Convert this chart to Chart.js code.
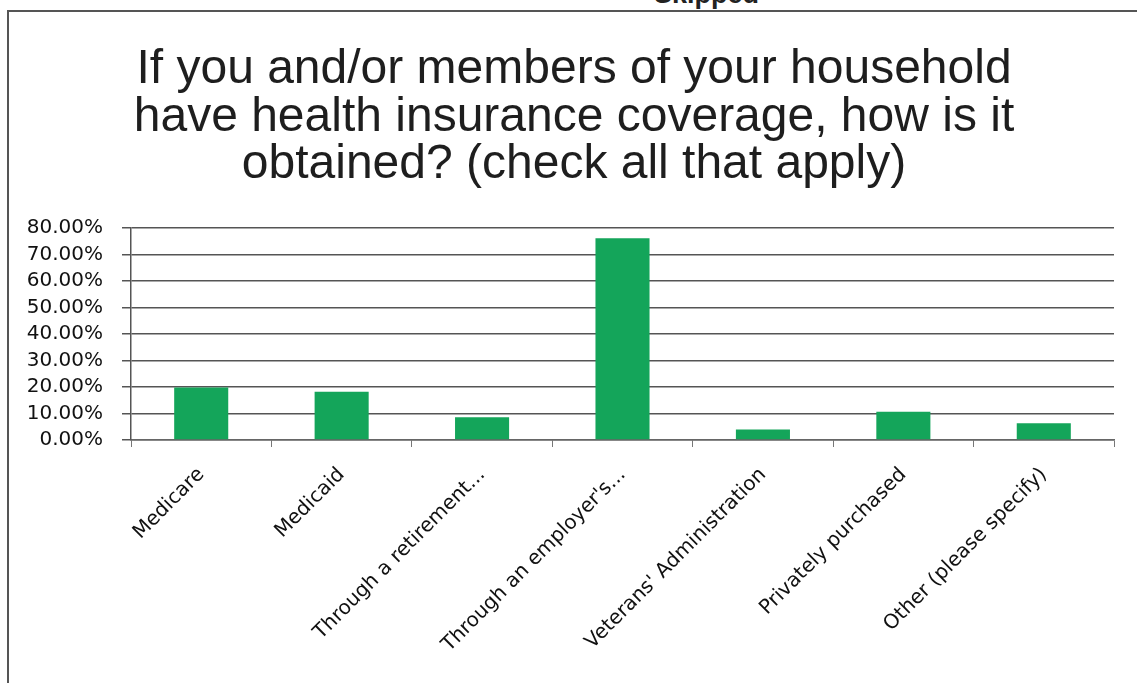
<!DOCTYPE html>
<html>
<head>
<meta charset="utf-8">
<script src="https://cdn.jsdelivr.net/npm/chart.js@4.4.1/dist/chart.umd.min.js"></script>
<style>
  html, body { margin: 0; padding: 0; background: #fff; }
  #wrap { position: relative; width: 1137px; height: 683px; overflow: hidden; }
  #frame { position: absolute; left: 7px; top: 10px; width: 1200px; height: 800px;
           border-left: 2px solid #555; border-top: 2px solid #555; pointer-events: none; }
  #skipped { position: absolute; left: 654px; top: -21px; line-height: 26px;
             font: bold 27px "Liberation Sans", Arial, sans-serif; color: #222; }
  #title { position: absolute; left: 74px; width: 1000px; top: 43px; text-align: center;
           font: 48px/47.5px "Liberation Sans", Arial, sans-serif; color: #1e1e1e; }
  canvas { position: absolute; left: 0; top: 0; }
</style>
</head>
<body>
<div id="wrap">
  <div id="skipped">Skipped</div>
  <div id="frame"></div>
  <canvas id="barChart" width="1137" height="683"></canvas>
  <div id="title"></div>
</div>
<script>
// answers and share of respondents
var categories = ['Medicare', 'Medicaid', 'Through a retirement...', "Through an employer's...",
    "Veterans' Administration", 'Privately purchased', 'Other (please specify)'];
var shares = [0.198, 0.182, 0.086, 0.761, 0.040, 0.107, 0.063];
var titleLines = ['If you and/or members of your household',
    'have health insurance coverage, how is it',
    'obtained? (check all that apply)'];

// title sits a bit right of the plot centre in the original, so it is plain html
var titleDiv = document.getElementById('title');
titleLines.forEach(function (line) {
    var d = document.createElement('div');
    d.textContent = line;
    titleDiv.appendChild(d);
});

var ctx = document.getElementById('barChart').getContext('2d');
var myChart = new Chart(ctx, {
    type: 'bar',
    data: {
        labels: categories,
        datasets: [{
            data: shares,
            backgroundColor: '#14a55a',
            barPercentage: 0.385,
            categoryPercentage: 1
        }]
    },
    options: {
        responsive: false,
        animation: false,
        layout: { padding: { left: 0, right: 23, top: 228, bottom: 0 } },
        plugins: {
            legend: { display: false },
            tooltip: { enabled: false }
        },
        scales: {
            x: {
                grid: { offset: true, drawOnChartArea: false, drawTicks: true, tickLength: 7, color: '#777' },
                border: { color: '#666', width: 1.5 },
                ticks: {
                    minRotation: 45, maxRotation: 45, autoSkip: false,
                    color: '#111', padding: 16,
                    font: { family: 'DejaVu Sans', size: 20 }
                },
                afterFit: function (scale) { scale.height = 243; }
            },
            y: {
                min: 0, max: 0.8,
                grid: { color: '#555', lineWidth: 1.5, tickLength: 9 },
                border: { color: '#555', width: 1.5 },
                ticks: {
                    stepSize: 0.1, padding: 19, autoSkip: false,
                    color: '#111',
                    font: { family: 'DejaVu Sans', size: 20 },
                    callback: function (v) { return (v * 100).toFixed(2) + '%'; }
                },
                afterFit: function (scale) { scale.width = 131; }
            }
        }
    }
});
</script>
</body>
</html>
